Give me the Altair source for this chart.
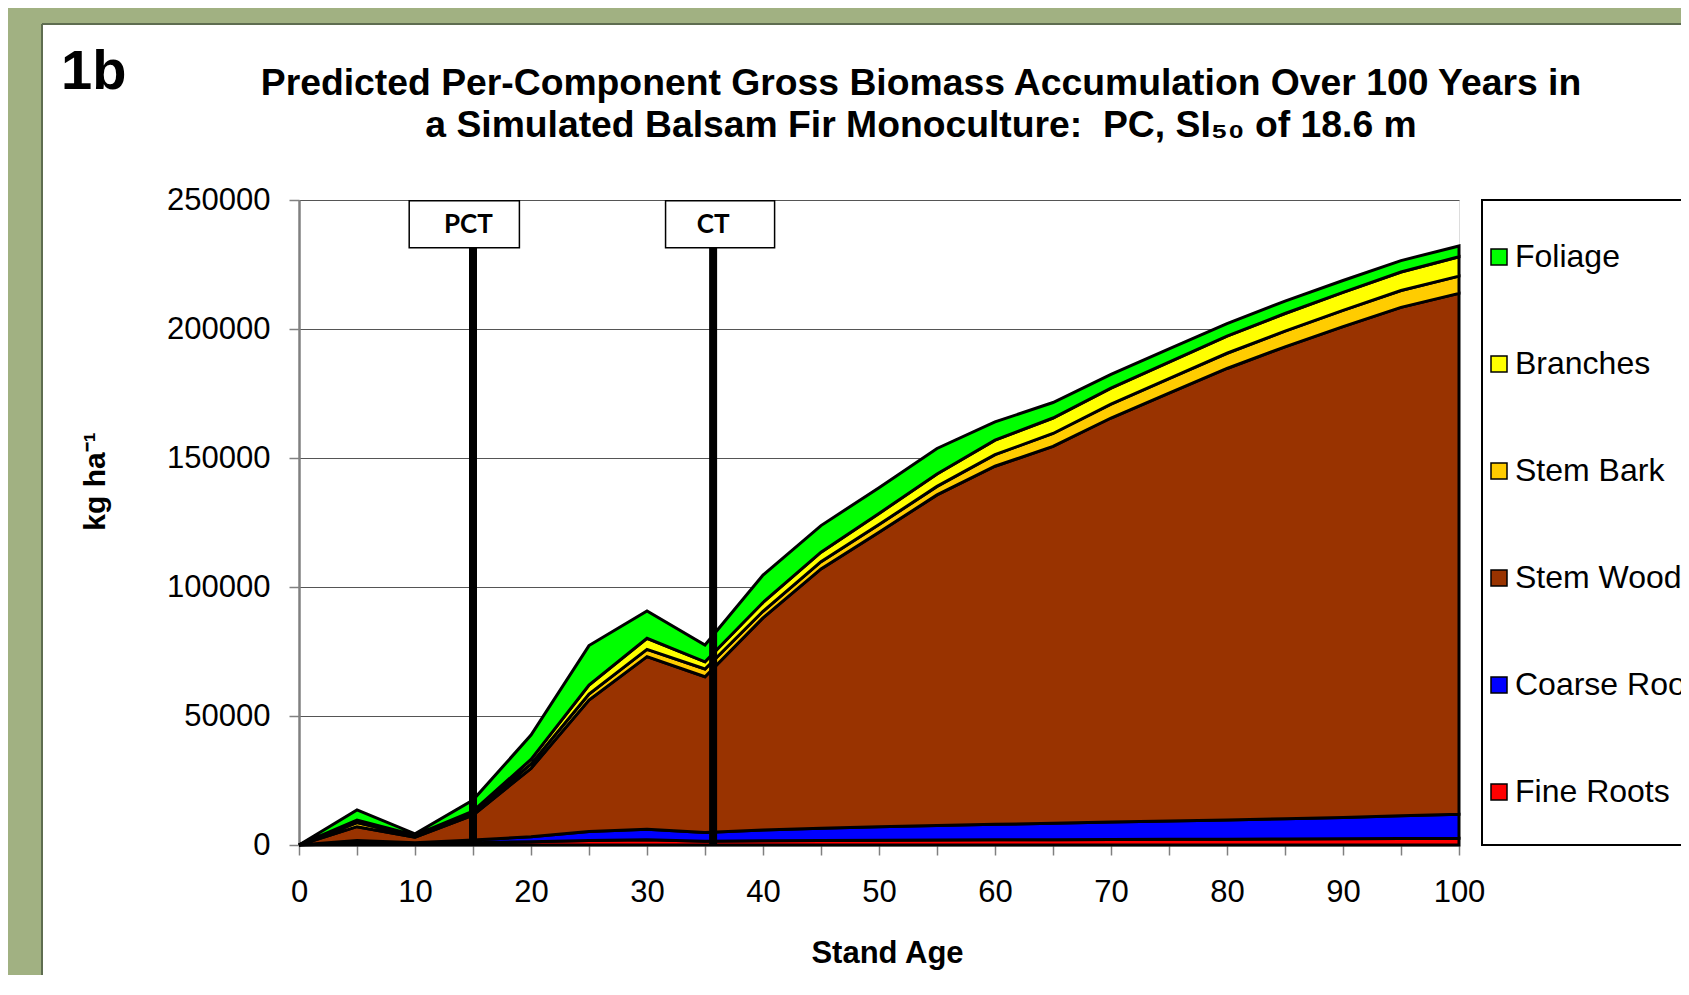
import altair as alt
import pandas as pd

# ---------------- data ----------------
ages = list(range(0, 101, 5))
components = ["Foliage", "Branches", "Stem Bark", "Stem Wood", "Coarse Roots", "Fine Roots"]
colors = ["#00FF00", "#FFFF00", "#FFCC00", "#993300", "#0000FF", "#FF0000"]

fine_roots = [0, 700, 500, 900, 1300, 1700, 2000, 1500, 1600, 1700, 1800, 1900, 2000, 2050, 2100, 2200, 2250, 2300, 2400, 2500, 2600]
coarse_roots = [0, 1000, 400, 1000, 1900, 3500, 4100, 3300, 4200, 4800, 5300, 5700, 6000, 6350, 6800, 7100, 7450, 7900, 8300, 8800, 9300]
stem_wood = [0, 5400, 2100, 9700, 26500, 51000, 66900, 60400, 82200, 100500, 114100, 128100, 138800, 146100, 156600, 165800, 175000, 182900, 190200, 197100, 201900]
stem_bark = [0, 1600, 400, 700, 1700, 2300, 2800, 3000, 2600, 2800, 3000, 3300, 4500, 5000, 5400, 5700, 5900, 6100, 6300, 6500, 6700]
branches = [0, 1000, 400, 800, 1800, 3500, 4300, 2800, 3400, 3700, 4300, 4800, 5600, 6000, 6200, 6400, 6600, 6800, 7000, 7200, 7500]
foliage = [0, 3900, 500, 4300, 9400, 15300, 10600, 6500, 10600, 10300, 10000, 9900, 7100, 6000, 5300, 5100, 4900, 4800, 4600, 4400, 4200]

y_ticks = [0, 50000, 100000, 150000, 200000, 250000]

events = ["PCT", "CT"]
event_age = [15, 35.7]
event_top = [231400, 231400]
box_left = [9.5, 31.6]
box_right = [19.0, 41.0]
box_bottom = [231500, 231500]
box_top = [249700, 249700]
label_age = [14.6, 35.7]
label_value = [240300, 240300]

title_line1 = "Predicted Per-Component Gross Biomass Accumulation Over 100 Years in"
title_line2 = "a Simulated Balsam Fir Monoculture:\u00a0 PC, SI\u2085\u2080 of 18.6 m"

# ---------------- tables ----------------
series = {
    "Fine Roots": fine_roots,
    "Coarse Roots": coarse_roots,
    "Stem Wood": stem_wood,
    "Stem Bark": stem_bark,
    "Branches": branches,
    "Foliage": foliage,
}
rows = []
for ord_i, (name, vals) in enumerate(series.items()):
    for a, v in zip(ages, vals):
        rows.append({"age": a, "value": v, "component": name, "ord": ord_i})
df = pd.DataFrame(rows)

ev = pd.DataFrame({
    "event": events, "age": event_age, "top": event_top, "base": [0, 0],
    "bl": box_left, "br": box_right, "bb": box_bottom, "bt": box_top,
    "lx": label_age, "ly": label_value,
})
one = pd.DataFrame({"k": [0]})

FONT = "Liberation Sans"
GREEN = "#a1b182"
EDGE = "#5e6d50"

xscale = alt.Scale(domain=[0, 100], nice=False)
yscale = alt.Scale(domain=[0, 250000], nice=False)

xaxis = alt.Axis(
    values=ages, labelExpr="datum.value % 10 === 0 ? datum.label : ''",
    title="Stand Age", titleFontSize=31, titleFontWeight="bold", titleFont=FONT,
    titleX=588, titleY=108, titleAlign="center", titleBaseline="middle", titleColor="black",
    labelFontSize=31, labelFont=FONT, labelColor="black", labelPadding=22,
    labelFlush=False, labelOverlap=False,
    tickSize=10, tickColor="#808080", tickWidth=1.5,
    domainColor="#808080", domainWidth=2, grid=False,
)
yaxis = alt.Axis(
    values=y_ticks, format="d",
    title="kg ha\u207b\u00b9", titleFontSize=30, titleFontWeight="bold", titleFont=FONT,
    titleAngle=270, titleX=-204, titleY=281, titleAlign="center", titleBaseline="middle",
    titleColor="black",
    labelFontSize=31, labelFont=FONT, labelColor="black", labelPadding=19,
    labelFlush=False, labelOverlap=False,
    tickSize=10, tickColor="#808080", tickWidth=1.5,
    domainColor="#808080", domainWidth=2.5,
    grid=True, gridColor="#555555", gridWidth=1.2,
)

# ---------------- decoration (frame of the figure panel) ----------------
top_strip = alt.Chart(one).mark_rect(fill=GREEN).encode(
    x=alt.value(-295), x2=alt.value(1500), y=alt.value(-195), y2=alt.value(-176))
left_strip = alt.Chart(one).mark_rect(fill=GREEN).encode(
    x=alt.value(-295), x2=alt.value(-257), y=alt.value(-195), y2=alt.value(900))
edge_top = alt.Chart(one).mark_rule(color=EDGE, strokeWidth=2).encode(
    x=alt.value(-257), x2=alt.value(1500), y=alt.value(-176))
edge_left = alt.Chart(one).mark_rule(color=EDGE, strokeWidth=2).encode(
    x=alt.value(-257), y=alt.value(-176), y2=alt.value(900))
legend_frame = alt.Chart(one).mark_rect(fill="white", stroke="black", strokeWidth=2).encode(
    x=alt.value(1183), x2=alt.value(1600), y=alt.value(0), y2=alt.value(645))
fig_label = alt.Chart(one).mark_text(
    align="left", baseline="alphabetic", fontSize=56, fontWeight="bold", font=FONT, color="black"
).encode(x=alt.value(-238), y=alt.value(-111), text=alt.value("1b"))
title1 = alt.Chart(one).mark_text(
    align="center", baseline="alphabetic", fontSize=37.3, fontWeight="bold", font=FONT, color="black"
).encode(x=alt.value(622), y=alt.value(-105), text=alt.value(title_line1))
title2 = alt.Chart(one).mark_text(
    align="center", baseline="alphabetic", fontSize=37.3, fontWeight="bold", font=FONT, color="black"
).encode(x=alt.value(622), y=alt.value(-63), text=alt.value(title_line2))

# ---------------- data marks ----------------
area = alt.Chart(df).mark_area(
    stroke="black", strokeWidth=3, opacity=1, strokeJoin="miter", interpolate="linear"
).encode(
    x=alt.X("age:Q", scale=xscale, axis=xaxis),
    y=alt.Y("value:Q", stack="zero", scale=yscale, axis=yaxis),
    fill=alt.Fill(
        "component:N",
        scale=alt.Scale(domain=components, range=colors),
        legend=alt.Legend(
            orient="none", legendX=1184, legendY=41, title=None,
            symbolType="square", symbolSize=256, symbolStrokeColor="black",
            symbolStrokeWidth=1.5, symbolOpacity=1,
            labelFontSize=32, labelFont=FONT, labelColor="black",
            rowPadding=75, labelOffset=0, labelLimit=400, padding=0,
        ),
    ),
    order=alt.Order("ord:Q", sort="ascending"),
)

rules = alt.Chart(ev).mark_rule(color="black", strokeWidth=8).encode(
    x="age:Q", y="base:Q", y2="top:Q")
boxes = alt.Chart(ev).mark_rect(fill="white", stroke="black", strokeWidth=1.5).encode(
    x="bl:Q", x2="br:Q", y="bb:Q", y2="bt:Q")
box_text = alt.Chart(ev).mark_text(
    font="Lato", fontWeight="bold", fontSize=26, color="black", baseline="middle"
).encode(x="lx:Q", y="ly:Q", text="event:N")

chart = alt.layer(
    top_strip, left_strip, edge_top, edge_left, legend_frame, fig_label, title1, title2,
    area, rules, boxes, box_text,
).properties(
    width=1160, height=645,
    padding={"left": 291, "top": 192, "right": 222, "bottom": 130},
    autosize=alt.AutoSizeParams(type="none"),
).configure_view(
    stroke="#8c8c8c", strokeWidth=2
).configure(
    background="white", font=FONT
)

chart.save("out.html", embed_options={"renderer": "svg", "actions": False})
